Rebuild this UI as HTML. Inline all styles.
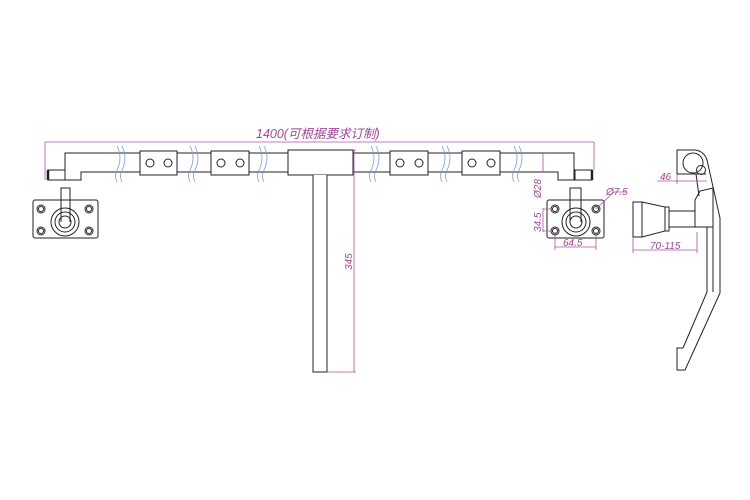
<!DOCTYPE html>
<html><head><meta charset="utf-8"><style>
html,body{margin:0;padding:0;background:#fff;width:750px;height:500px;overflow:hidden}
text{font-family:"Liberation Sans","Noto Sans CJK SC",sans-serif;fill:#a04898;font-style:italic}
</style></head><body>
<svg width="750" height="500" viewBox="0 0 750 500" xmlns="http://www.w3.org/2000/svg">
<g fill="none" stroke="#222" stroke-width="1">
<!-- bar -->
<path d="M65,180 V153 H574 V180 H558 V172 H81 V180 Z" fill="#fff"/>
<rect x="48" y="170" width="17" height="10" fill="#fff"/>
<line x1="48" y1="170" x2="48" y2="180" stroke-width="2.5"/>
<rect x="575" y="170" width="17" height="10" fill="#fff"/>
<line x1="592" y1="170" x2="592" y2="180" stroke-width="2.5"/>
<!-- blocks -->
<rect x="140" y="151" width="37" height="24" fill="#fff"/>
<rect x="211" y="151" width="38" height="24" fill="#fff"/>
<rect x="390" y="151" width="38" height="24" fill="#fff"/>
<rect x="462" y="151" width="38" height="24" fill="#fff"/>
<circle cx="150" cy="163" r="4"/><circle cx="168" cy="163" r="4"/>
<circle cx="221" cy="163" r="4"/><circle cx="240" cy="163" r="4"/>
<circle cx="400" cy="163" r="4"/><circle cx="419" cy="163" r="4"/>
<circle cx="472" cy="163" r="4"/><circle cx="491" cy="163" r="4"/>
<!-- central -->
<rect x="288" y="150" width="65" height="25" fill="#fff"/>
<path d="M313,175 V372 H327 V175" fill="#fff"/>
<!-- left mount -->
<rect x="33" y="200" width="65" height="38" rx="2" fill="#fff"/>
<circle cx="65" cy="222" r="14"/><circle cx="65" cy="222" r="10"/><circle cx="65" cy="222" r="6"/>
<path d="M61,222 V188 H70 V222"/>
<circle cx="41" cy="209" r="4"/><circle cx="41" cy="209" r="2.5"/>
<circle cx="89" cy="209" r="4"/><circle cx="89" cy="209" r="2.5"/>
<circle cx="41" cy="231" r="4"/><circle cx="41" cy="231" r="2.5"/>
<circle cx="89" cy="231" r="4"/><circle cx="89" cy="231" r="2.5"/>
<!-- right mount -->
<rect x="547" y="200" width="57" height="38" rx="2" fill="#fff"/>
<circle cx="576" cy="222" r="14"/><circle cx="576" cy="222" r="10"/><circle cx="576" cy="222" r="6"/>
<path d="M570,222 V188 H581 V222"/>
<circle cx="555" cy="209" r="4"/><circle cx="555" cy="209" r="2.5"/>
<circle cx="596" cy="209" r="4"/><circle cx="596" cy="209" r="2.5"/>
<circle cx="555" cy="231" r="4"/><circle cx="555" cy="231" r="2.5"/>
<circle cx="596" cy="231" r="4"/><circle cx="596" cy="231" r="2.5"/>
<!-- side view -->
<path d="M677,174 V150 H695 Q704,151 707,160 L720,218 V293 L685,370 H677 V348 H683"/>
<path d="M677,174 H706"/>
<circle cx="693" cy="163" r="10"/><circle cx="701" cy="170" r="4.5"/>
<path d="M696,174 L699,196"/>
<path d="M695,227 V200 L700,191 L713,188 V227 Z"/>
<path d="M707,227 V292 L683,348"/>
<path d="M713,227 V292"/>
<rect x="633" y="202" width="9" height="35"/>
<path d="M642,202 L665,207 V231 L642,237 Z"/>
<rect x="665" y="207" width="4" height="24"/>
<rect x="669" y="211" width="26" height="16"/>
</g>
<!-- wavy breaks -->
<g fill="none" stroke="#7a9ad8" stroke-width="0.8">
<path d="M117,146 q6,12 0,24 q-3,6 0,12"/><path d="M122,146 q6,12 0,24 q-3,6 0,12"/>
<path d="M190,146 q6,12 0,24 q-3,6 0,12"/><path d="M195,146 q6,12 0,24 q-3,6 0,12"/>
<path d="M259,146 q6,12 0,24 q-3,6 0,12"/><path d="M264,146 q6,12 0,24 q-3,6 0,12"/>
<path d="M371,146 q6,12 0,24 q-3,6 0,12"/><path d="M376,146 q6,12 0,24 q-3,6 0,12"/>
<path d="M442,146 q6,12 0,24 q-3,6 0,12"/><path d="M447,146 q6,12 0,24 q-3,6 0,12"/>
<path d="M514,146 q6,12 0,24 q-3,6 0,12"/><path d="M519,146 q6,12 0,24 q-3,6 0,12"/>
</g>
<!-- dimensions -->
<g fill="none" stroke="#b050a8" stroke-width="0.8">
<path d="M45,142 H594 M45,142 V180 M594,142 V170"/>
<path d="M354,150 V372 M327,372 H356 M353,150 H356"/>
<path d="M543,153 V172 M543,208 V232 M543,209 H551 M543,231 H551"/>
<path d="M555,232 V250 M596,232 V250 M555,247 H596"/>
<path d="M596,209 L614,192 H626"/>
<path d="M657,181 H707 M677,174 V184"/>
<path d="M633,237 V253 M697,232 V253 M633,250 H697"/>
</g>
<text x="256" y="138" font-size="12.5">1400(可根据要求订制)</text>
<text transform="translate(352,270) rotate(-90)" font-size="10">345</text>
<text transform="translate(541,198) rotate(-90)" font-size="10">Ø28</text>
<text transform="translate(541,232) rotate(-90)" font-size="10">34.5</text>
<text x="563" y="246" font-size="10">64.5</text>
<text x="606" y="195" font-size="10">Ø7.5</text>
<text x="660" y="180" font-size="10">46</text>
<text x="650" y="249" font-size="10">70-115</text>
</svg>
</body></html>
